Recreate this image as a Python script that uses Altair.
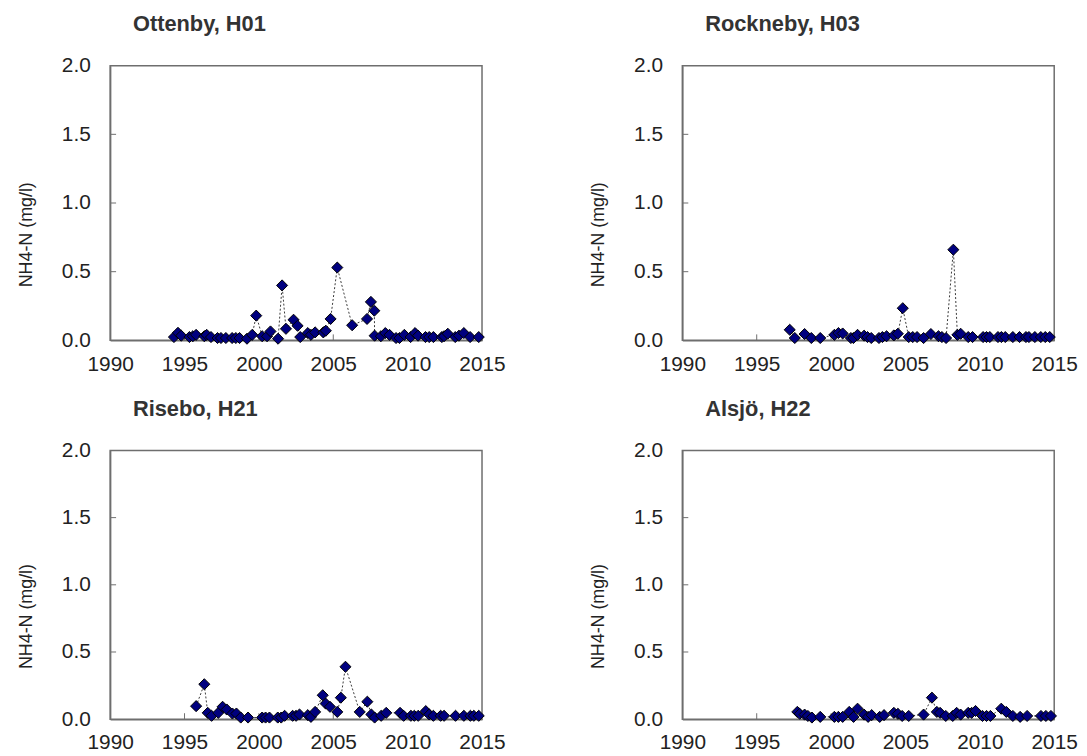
import altair as alt
import pandas as pd

FONT = "Liberation Sans"

# ---------------- data ----------------
stations = ["Ottenby, H01", "Rockneby, H03", "Risebo, H21", "Alsjö, H22"]

ott_year = [1994.29, 1994.56, 1994.78, 1995.33, 1995.56, 1995.78, 1996.33, 1996.49, 1996.78,
            1997.22, 1997.45, 1997.78, 1998.20, 1998.45, 1998.70, 1999.20, 1999.55, 1999.82,
            2000.22, 2000.55, 2000.78, 2001.29, 2001.56, 2001.82, 2002.33, 2002.60, 2002.78,
            2003.29, 2003.50, 2003.78, 2004.33, 2004.50, 2004.82, 2005.27, 2006.27, 2007.27,
            2007.53, 2007.76, 2007.78, 2008.20, 2008.50, 2008.78, 2009.22, 2009.45, 2009.78,
            2010.20, 2010.50, 2010.70, 2011.20, 2011.45, 2011.73, 2012.30, 2012.45, 2012.70,
            2013.20, 2013.45, 2013.78, 2014.20, 2014.78]
ott_val = [0.024, 0.055, 0.034, 0.024, 0.030, 0.040, 0.030, 0.040, 0.024,
           0.017, 0.017, 0.017, 0.017, 0.017, 0.017, 0.012, 0.040, 0.180,
           0.030, 0.030, 0.065, 0.012, 0.400, 0.084, 0.150, 0.106, 0.024,
           0.053, 0.040, 0.058, 0.058, 0.070, 0.156, 0.530, 0.110, 0.156,
           0.280, 0.216, 0.034, 0.030, 0.053, 0.040, 0.017, 0.017, 0.040,
           0.024, 0.053, 0.034, 0.024, 0.024, 0.024, 0.024, 0.030, 0.048,
           0.024, 0.034, 0.053, 0.024, 0.024]

roc_year = [1997.22, 1997.56, 1998.22, 1998.67, 1999.27, 2000.22, 2000.49, 2000.78, 2001.33,
            2001.50, 2001.78, 2002.22, 2002.45, 2002.70, 2003.22, 2003.45, 2003.73, 2004.22,
            2004.49, 2004.82, 2005.22, 2005.49, 2005.78, 2006.22, 2006.71, 2007.22, 2007.45,
            2007.73, 2008.22, 2008.49, 2008.71, 2009.22, 2009.51, 2010.22, 2010.45, 2010.67,
            2011.22, 2011.45, 2011.71, 2012.22, 2012.67, 2013.10, 2013.30, 2013.70, 2014.10,
            2014.40, 2014.70]
roc_val = [0.077, 0.017, 0.046, 0.017, 0.017, 0.040, 0.053, 0.050, 0.017,
           0.017, 0.040, 0.034, 0.024, 0.017, 0.017, 0.024, 0.030, 0.036,
           0.048, 0.234, 0.024, 0.024, 0.024, 0.017, 0.046, 0.030, 0.024,
           0.017, 0.660, 0.040, 0.048, 0.024, 0.024, 0.024, 0.024, 0.024,
           0.024, 0.024, 0.024, 0.024, 0.024, 0.024, 0.024, 0.024, 0.024,
           0.024, 0.024]

ris_year = [1995.78, 1996.33, 1996.56, 1996.82, 1997.27, 1997.56, 1997.84, 1998.22, 1998.49,
            1998.78, 1999.27, 2000.22, 2000.45, 2000.71, 2001.27, 2001.50, 2001.73, 2002.27,
            2002.50, 2002.73, 2003.29, 2003.50, 2003.78, 2004.29, 2004.49, 2004.78, 2005.27,
            2005.51, 2005.82, 2006.78, 2007.29, 2007.56, 2007.78, 2008.22, 2008.56, 2009.49,
            2009.73, 2010.22, 2010.45, 2010.71, 2011.22, 2011.45, 2011.73, 2012.22, 2012.45,
            2013.22, 2013.78, 2014.22, 2014.45, 2014.78]
ris_val = [0.097, 0.260, 0.047, 0.025, 0.047, 0.092, 0.072, 0.042, 0.042,
           0.012, 0.012, 0.012, 0.012, 0.012, 0.012, 0.012, 0.025, 0.025,
           0.025, 0.035, 0.030, 0.017, 0.054, 0.178, 0.116, 0.092, 0.054,
           0.160, 0.390, 0.054, 0.130, 0.035, 0.012, 0.025, 0.047, 0.047,
           0.025, 0.025, 0.025, 0.025, 0.060, 0.035, 0.025, 0.025, 0.025,
           0.025, 0.025, 0.025, 0.025, 0.025]

als_year = [1997.73, 1997.89, 1998.22, 1998.44, 1998.71, 1999.27, 2000.22, 2000.49, 2000.78,
            2001.22, 2001.51, 2001.78, 2002.22, 2002.49, 2002.73, 2003.27, 2003.56, 2004.22,
            2004.49, 2004.78, 2005.22, 2006.22, 2006.78, 2007.11, 2007.33, 2007.71, 2008.18,
            2008.44, 2008.71, 2009.22, 2009.45, 2009.71, 2010.18, 2010.45, 2010.71, 2011.44,
            2011.78, 2012.22, 2012.71, 2013.18, 2014.11, 2014.44, 2014.78]
als_val = [0.054, 0.040, 0.034, 0.024, 0.012, 0.017, 0.017, 0.017, 0.017,
           0.054, 0.017, 0.078, 0.034, 0.017, 0.030, 0.017, 0.030, 0.047,
           0.040, 0.024, 0.024, 0.034, 0.160, 0.054, 0.047, 0.024, 0.024,
           0.047, 0.034, 0.047, 0.047, 0.061, 0.024, 0.024, 0.024, 0.078,
           0.054, 0.024, 0.017, 0.024, 0.024, 0.024, 0.024]

x_ticks = [1990, 1995, 2000, 2005, 2010, 2015]
y_ticks = [0.0, 0.5, 1.0, 1.5, 2.0]
inner_x_ticks = [1995, 2000, 2005, 2010]
inner_y_ticks = [0.5, 1.0, 1.5]

series = [(ott_year, ott_val), (roc_year, roc_val), (ris_year, ris_val), (als_year, als_val)]

AXIS_COLOR = "#6e6e6e"
TICK_LEN = 6


def panel(name, years, vals, height, title_y):
    df = pd.DataFrame({"year": years, "value": vals})
    xs = alt.Scale(domain=[1990, 2015], nice=False, zero=False)
    ys = alt.Scale(domain=[0, 2], nice=False)
    x_enc = alt.X("year:Q", scale=xs,
                  axis=alt.Axis(values=x_ticks, format="d", title=None,
                                labelPadding=13, labelFlush=False))
    y_enc = alt.Y("value:Q", scale=ys,
                  axis=alt.Axis(values=y_ticks, format=".1f", title="NH4-N (mg/l)",
                                titleY=title_y, labelPadding=20, titlePadding=26))
    base = alt.Chart(df).encode(x=x_enc, y=y_enc)
    line = base.mark_line(color="#3a3a3a", strokeWidth=1, strokeDash=[2, 2])
    pts = base.mark_point(shape="diamond", filled=True, size=125, fill="#00007f",
                          stroke="#000000", strokeWidth=1, opacity=1)

    xt = alt.Chart(pd.DataFrame({"year": inner_x_ticks})).mark_rule(
        color=AXIS_COLOR, strokeWidth=1).encode(
        x=x_enc, y=alt.value(height), y2=alt.value(height - TICK_LEN))
    yt = alt.Chart(pd.DataFrame({"value": inner_y_ticks})).mark_rule(
        color=AXIS_COLOR, strokeWidth=1).encode(
        y=y_enc, x=alt.value(0), x2=alt.value(TICK_LEN))

    return alt.layer(xt, yt, line, pts).properties(
        width=375, height=height,
        title=alt.TitleParams(name, anchor="start", frame="group", dx=23, offset=19,
                              fontSize=22, font=FONT, fontWeight="bold", color="#333333"))


p = [panel(stations[i], series[i][0], series[i][1],
           277 if i < 2 else 271, 170 if i < 2 else 167) for i in range(4)]

chart = alt.concat(
    *p, columns=2, spacing={"row": 111, "column": 202}, bounds="flush"
).properties(
    padding={"left": 9, "top": 1, "right": 0, "bottom": 0},
    background="white"
).configure_view(
    stroke=AXIS_COLOR, strokeWidth=1.5
).configure_axis(
    grid=False, ticks=False, domainColor=AXIS_COLOR, domainWidth=1.5,
    labelFont=FONT, labelFontSize=21, labelColor="#222222",
    titleFont=FONT, titleFontSize=18, titleFontWeight="normal", titleColor="#222222"
)

chart.save("out.html", embed_options={"renderer": "svg", "actions": False})
